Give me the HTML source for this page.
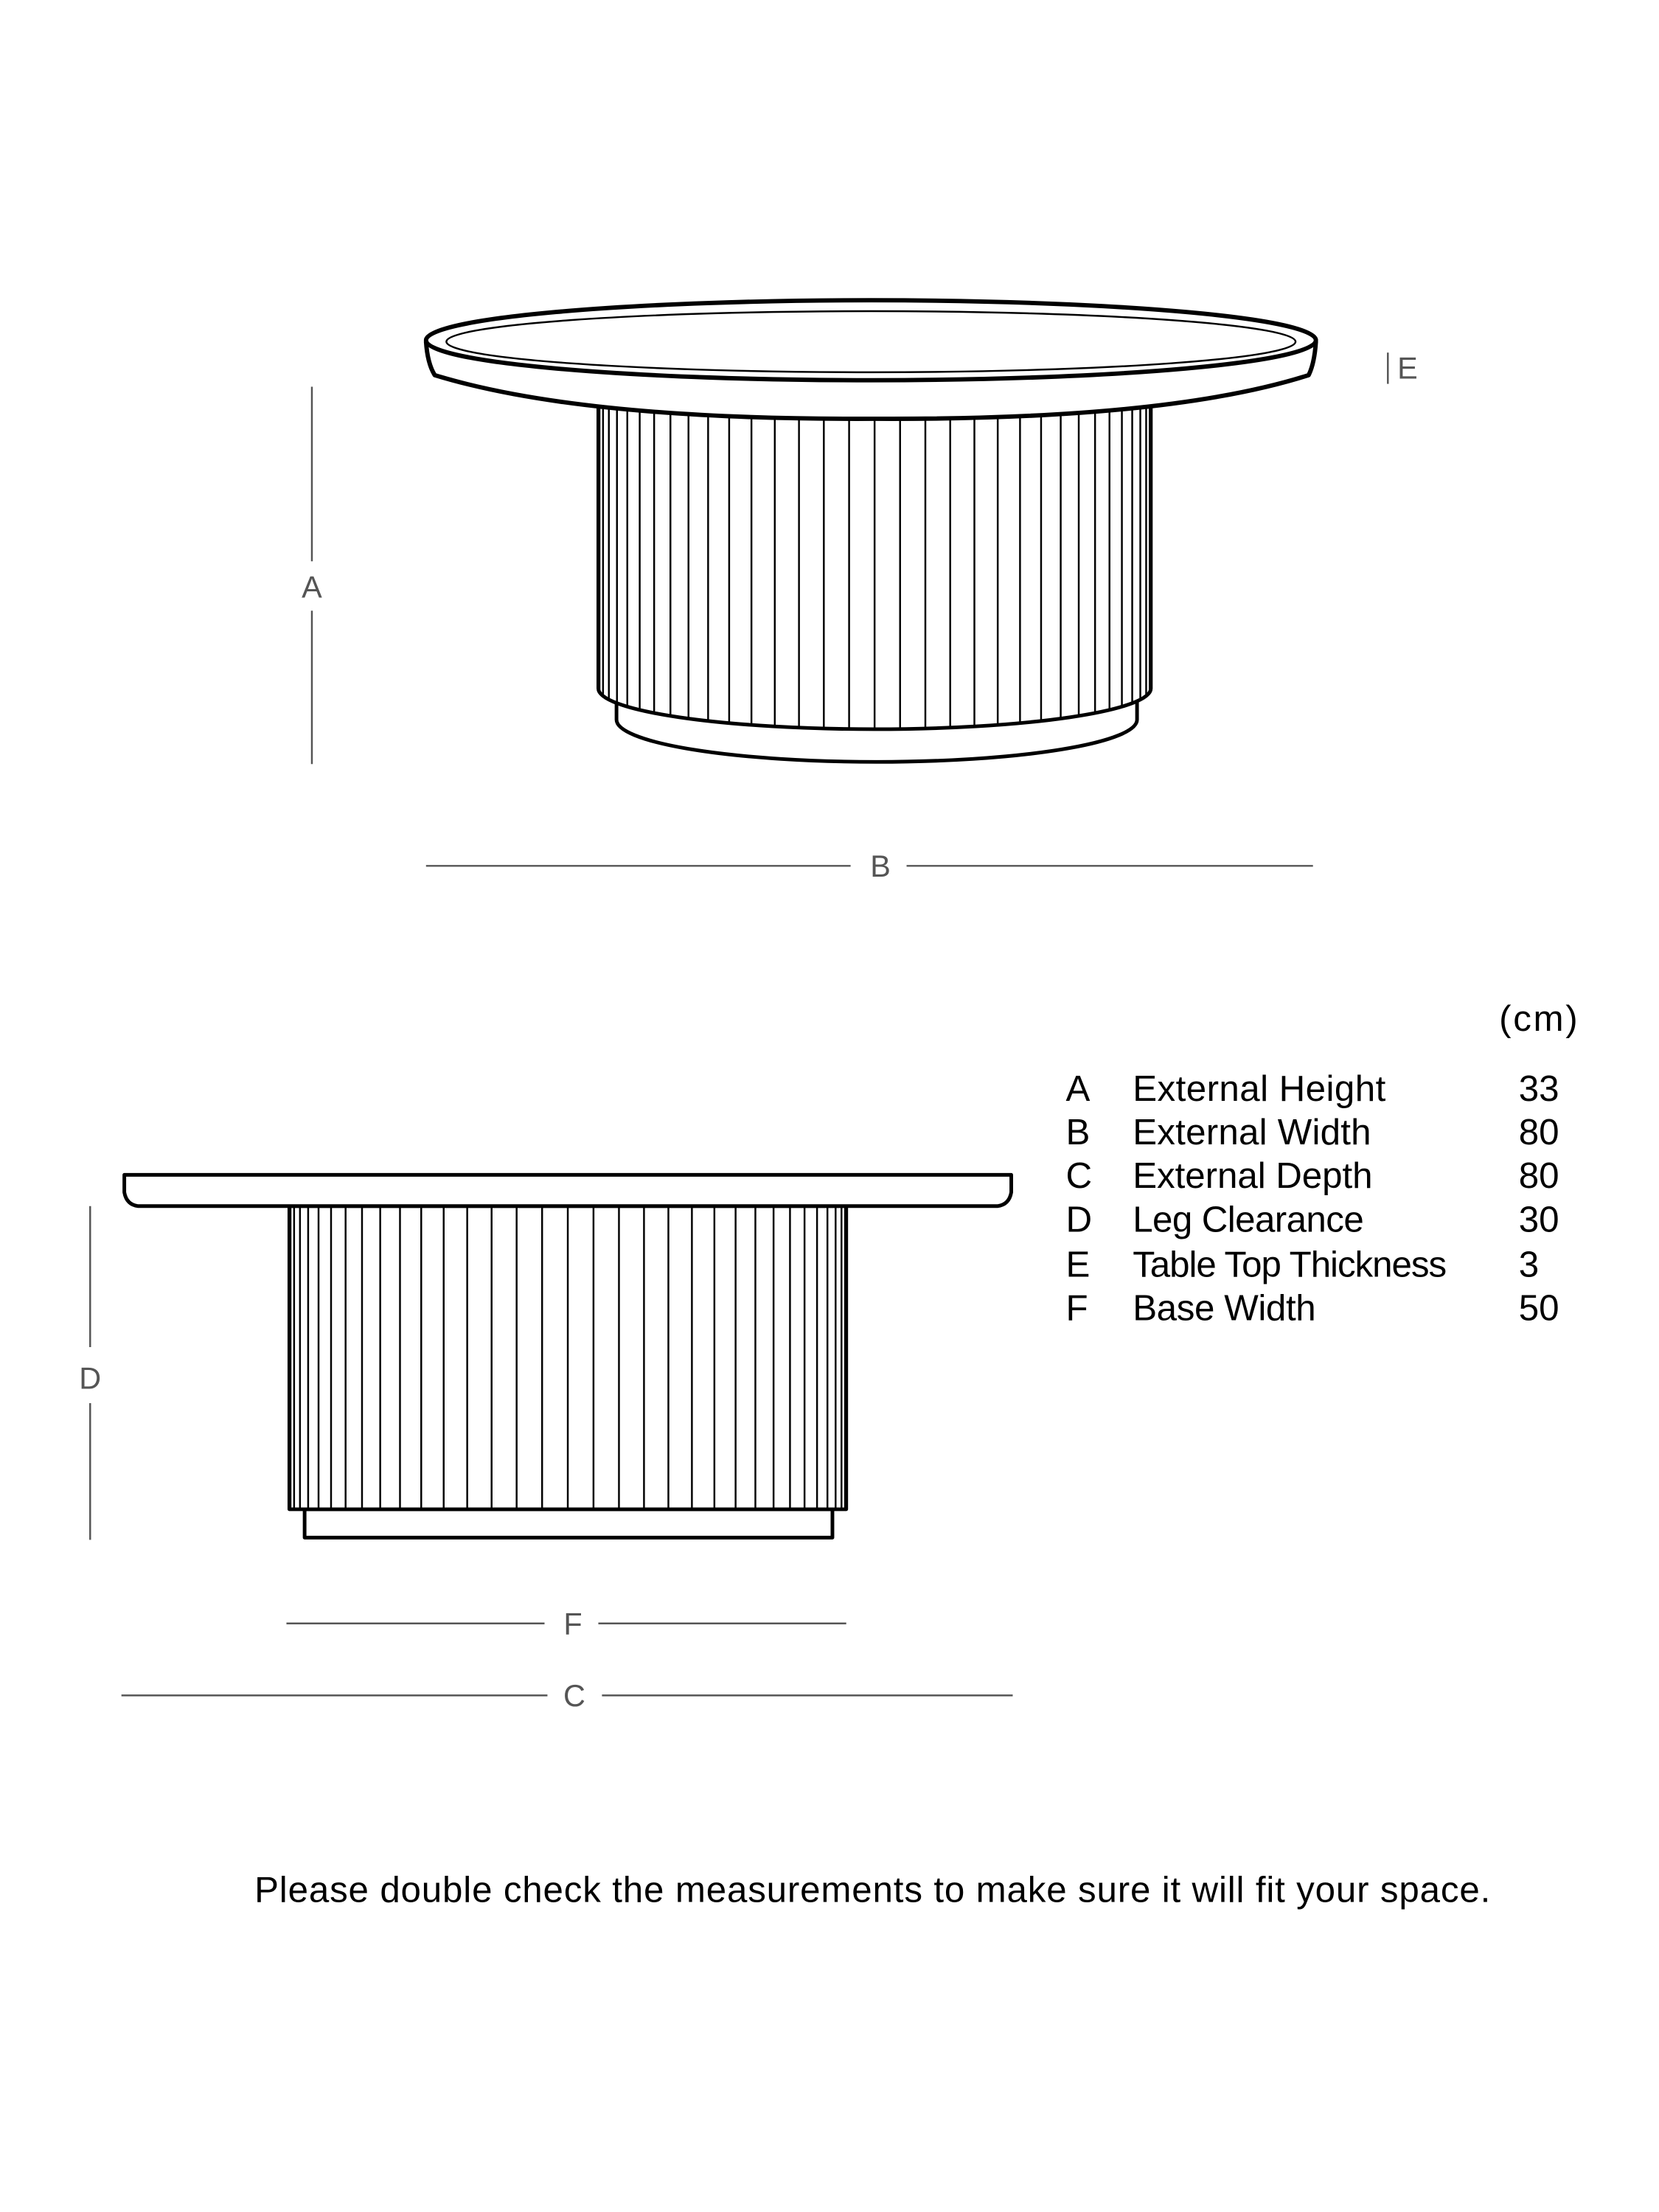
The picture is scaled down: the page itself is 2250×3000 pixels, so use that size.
<!DOCTYPE html>
<html><head><meta charset="utf-8"><style>
html,body{margin:0;padding:0;background:#fff;}
svg{display:block;}
text{font-family:"Liberation Sans",sans-serif;}
</style></head><body>
<svg id="s" width="2250" height="3000" viewBox="0 0 2250 3000" xmlns="http://www.w3.org/2000/svg">
<rect width="2250" height="3000" fill="#fff"/>
<g transform="scale(0.986)">
<g fill="none" stroke="#000" stroke-width="5" stroke-linejoin="round">
  <path d="M848 960 L848 990 A358 58 0 0 0 1564 990 L1564 960" fill="#fff"/>
  <path d="M823 540 L823 947 A380 56 0 0 0 1583 947 L1583 540" fill="#fff"/>
  <g id="f1" stroke-width="2.5"></g>
  <path d="M586 470 Q588 500 598 516 Q800 578 1203 576 Q1606 578 1800 516 Q1808 500 1810 470 Z" fill="#fff" stroke-width="6"/>
  <ellipse cx="1198" cy="468" rx="612" ry="55" fill="#fff" stroke-width="6"/>
  <ellipse cx="1198" cy="470" rx="584" ry="42" stroke-width="2.5"/>
  <rect x="419" y="2076" width="726" height="39" fill="#fff" stroke-width="5"/>
  <rect x="398" y="1659" width="766" height="417" fill="#fff" stroke-width="5"/>
  <g id="f2" stroke-width="2.5"></g>
  <path d="M171 1616 L1391 1616 L1391 1640 Q1388 1657 1372 1659 L190 1659 Q174 1657 171 1640 Z" fill="#fff" stroke-width="5"/>
</g>
<g stroke="#555" stroke-width="2.5">
  <line x1="429" y1="532" x2="429" y2="772"/><line x1="429" y1="840" x2="429" y2="1051"/>
  <line x1="1909" y1="485" x2="1909" y2="528"/>
  <line x1="586" y1="1191" x2="1170" y2="1191"/><line x1="1247" y1="1191" x2="1806" y2="1191"/>
  <line x1="124" y1="1659" x2="124" y2="1853"/><line x1="124" y1="1930" x2="124" y2="2118"/>
  <line x1="394" y1="2233" x2="749" y2="2233"/><line x1="823" y1="2233" x2="1164" y2="2233"/>
  <line x1="167" y1="2332" x2="753" y2="2332"/><line x1="828" y1="2332" x2="1393" y2="2332"/>
</g>
<g fill="#555" font-size="42" text-anchor="middle">
  <text x="429" y="822">A</text>
  <text x="1922" y="521" text-anchor="start">E</text>
  <text x="1211" y="1206">B</text>
  <text x="124" y="1910">D</text>
  <text x="788" y="2248">F</text>
  <text x="790" y="2347">C</text>
</g>
<g fill="#000" font-size="50">
  <text x="2062" y="1418" textLength="108">(cm)</text>
  <text x="1466" y="1514">A</text><text x="1558" y="1514" textLength="348">External Height</text><text x="2089" y="1514">33</text>
  <text x="1466" y="1574">B</text><text x="1558" y="1574" textLength="328">External Width</text><text x="2089" y="1574">80</text>
  <text x="1466" y="1634">C</text><text x="1558" y="1634" textLength="330">External Depth</text><text x="2089" y="1634">80</text>
  <text x="1466" y="1694">D</text><text x="1558" y="1694" textLength="318">Leg Clearance</text><text x="2089" y="1694">30</text>
  <text x="1466" y="1756">E</text><text x="1558" y="1756" textLength="432">Table Top Thickness</text><text x="2089" y="1756">3</text>
  <text x="1466" y="1816">F</text><text x="1558" y="1816" textLength="252">Base Width</text><text x="2089" y="1816">50</text>
  <text x="350" y="2616" textLength="1700">Please double check the measurements to make sure it will fit your space.</text>
</g>
</g>
</svg>
<script>
(function(){
var ns="http://www.w3.org/2000/svg";
function fl(id,cx,r,y1,ybot,ry,n){
 var g=document.getElementById(id);
 for(var i=1;i<n;i++){
  var dx=-r*Math.cos(Math.PI*i/n);
  var y2=ry?ybot+ry*Math.sqrt(Math.max(0,1-(dx/r)*(dx/r))):ybot;
  var l=document.createElementNS(ns,"line");
  l.setAttribute("x1",cx+dx);l.setAttribute("x2",cx+dx);
  l.setAttribute("y1",y1);l.setAttribute("y2",y2);
  g.appendChild(l);
 }
}
fl("f1",1203,380,540,947,56,34);
fl("f2",781,383,1659,2076,0,34);
})();
</script>
</body></html>
